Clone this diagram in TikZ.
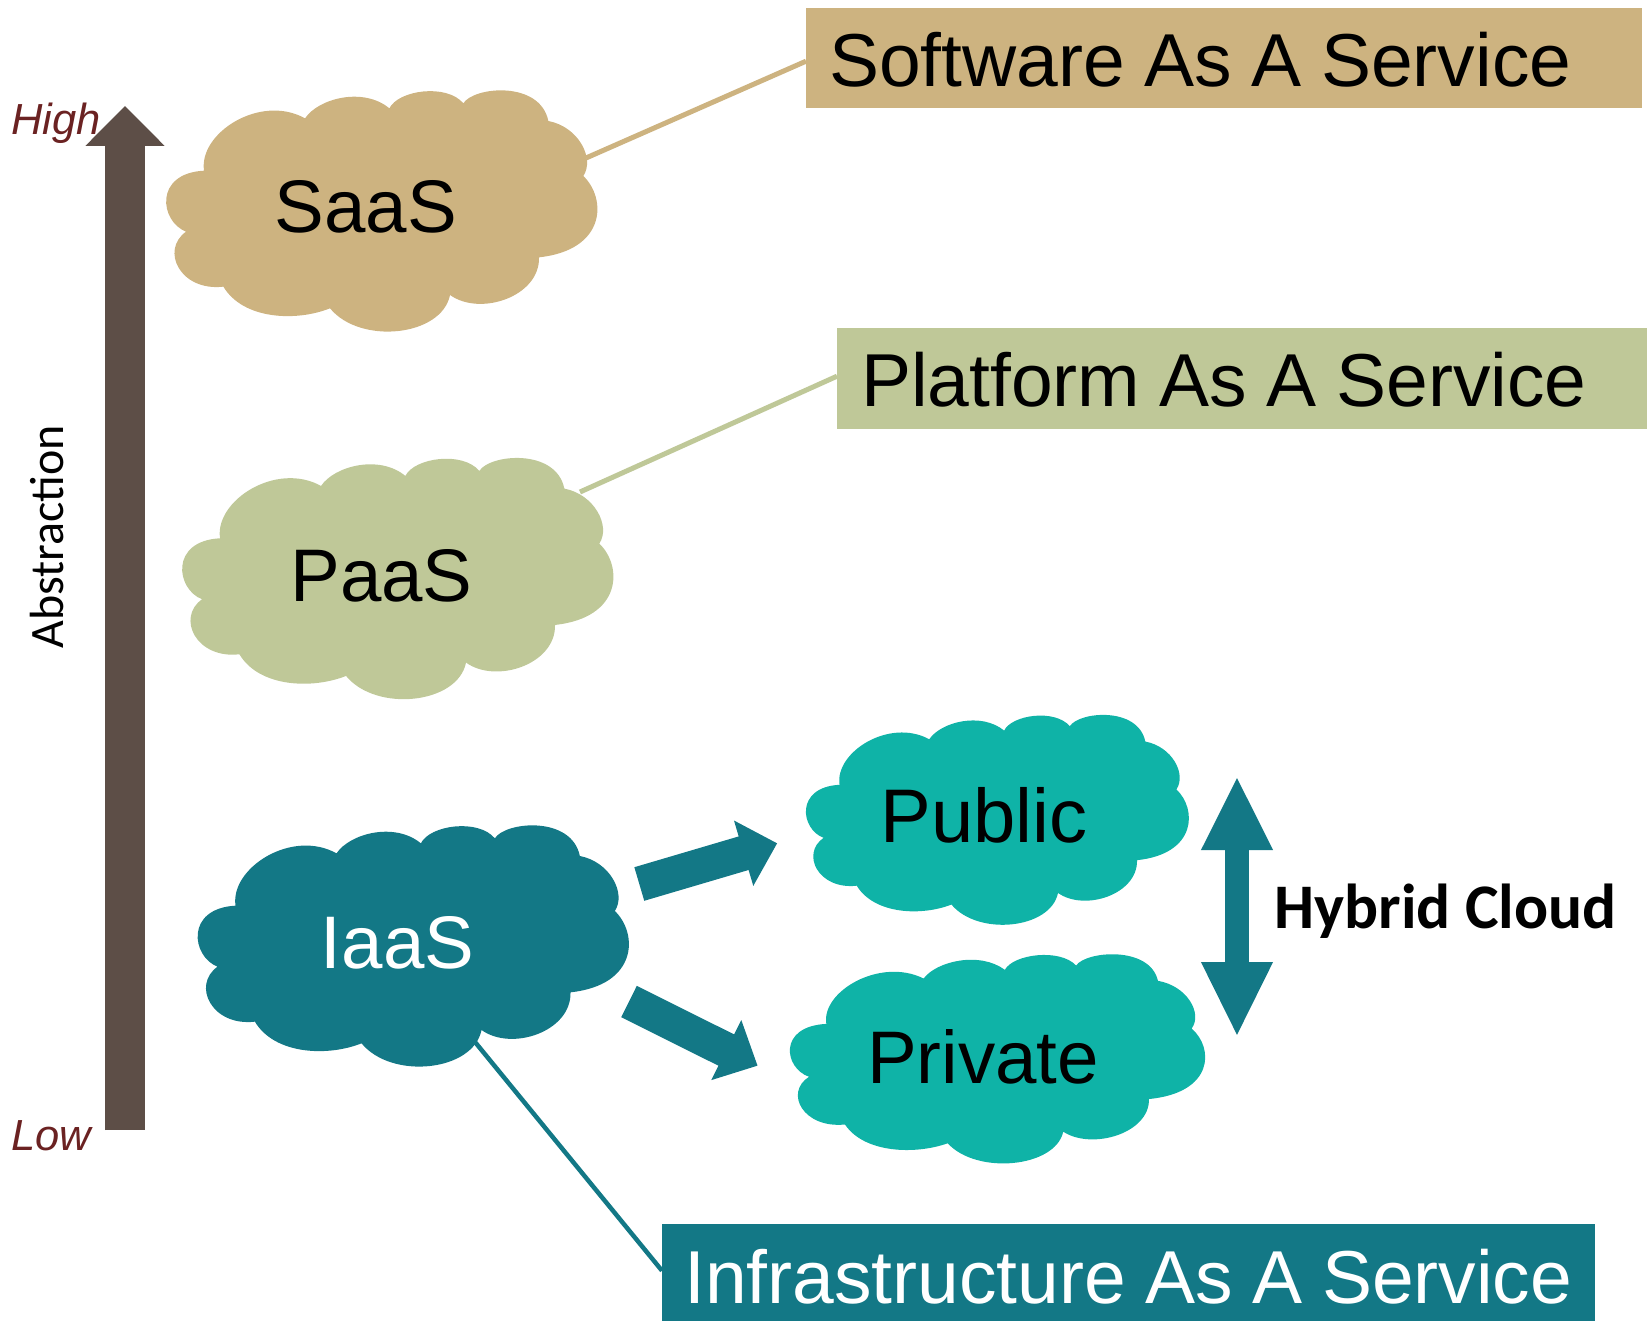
\documentclass[tikz,border=0pt]{standalone}
\usepackage{fontspec}
\setmainfont{Liberation Sans}
\newfontfamily\calibrifont{Carlito}
\usetikzlibrary{arrows.meta,positioning}

\definecolor{saastan}{HTML}{CDB380}
\definecolor{paassage}{HTML}{BFC898}
\definecolor{iaasteal}{HTML}{137886}
\definecolor{cloudgreen}{HTML}{0FB3A7}
\definecolor{axisbrown}{HTML}{5D4E47}
\definecolor{axisred}{HTML}{6B2222}

\newcommand{\boxfont}{\fontsize{75}{75}\selectfont\spaceskip=19.5pt\relax}

% one cloud outline, drawn around (0,0)
\newcommand{\cloudoutline}{
    (-185,-275)
    .. controls (-145,-335) and (-10,-370) .. (68,-305)
    .. controls (95,-360) and (240,-380) .. (290,-320)
    .. controls (320,-370) and (520,-390) .. (545,-267)
    .. controls (635,-250) and (685,-155) .. (650,-102)
    .. controls (720,-35) and (720,120) .. (517,142)
    .. controls (520,260) and (340,320) .. (250,255)
    .. controls (225,380) and (-20,405) .. (-110,295)
    .. controls (-210,335) and (-370,330) .. (-430,230)
    .. controls (-560,245) and (-620,120) .. (-542,65)
    .. controls (-620,35) and (-640,-110) .. (-488,-118)
    .. controls (-505,-230) and (-320,-350) .. (-185,-275)
    -- cycle
}

\tikzset{
    x=1pt,y=-1pt,
    cloudlabel/.style={anchor=base,inner sep=0pt,font=\fontsize{74.5}{74.5}\selectfont},
    infobox/.style={anchor=north west,inner sep=0pt,text height=#1,text depth=0pt,
        font=\boxfont,align=flush left},
    levellabel/.style={anchor=base west,inner sep=0pt,text=axisred,
        font=\fontsize{43.5}{43.5}\selectfont\itshape},
    fatarrow/.style={line width=35pt,iaasteal},
}

\begin{document}
\begin{tikzpicture}
    \useasboundingbox (0,0) rectangle (1647,1321);

    % left axis
    \coordinate (axislow) at (125,1130);
    \coordinate (axishigh) at (125,106);
    \draw[line width=40pt,axisbrown,-{Triangle[length=40pt,width=77pt]}] (axislow) -- (axishigh);
    \node[levellabel] (high) at (11,135) {High};
    \node[levellabel] (low) at (11,1150) {Low};
    \node[rotate=90,anchor=base,inner sep=0pt,font=\calibrifont\fontsize{48}{48}\selectfont] (abstraction) at (63,537) {Abstraction};

    % clouds
    \fill[saastan,shift={(366.7,210)},scale=0.3333] \cloudoutline;
    \fill[paassage,shift={(382.7,577.6)},scale=0.3333] \cloudoutline;
    \fill[iaasteal,shift={(398.2,945)},scale=0.3333] \cloudoutline;
    \fill[cloudgreen,shift={(984,819)},xscale=0.296,yscale=0.29] \cloudoutline;
    \fill[cloudgreen,shift={(983,1058)},xscale=0.321,yscale=0.289] \cloudoutline;

    \node[cloudlabel] (saas) at (366,232.7) {SaaS};
    \node[cloudlabel] (paas) at (381.5,601) {PaaS};
    \node[cloudlabel,text=white] (iaas) at (397.5,968.5) {IaaS};
    \node[cloudlabel,font=\fontsize{76}{76}\selectfont] (public) at (984,842) {Public};
    \node[cloudlabel] (private) at (983,1083) {Private};

    % boxes
    \node[infobox=56pt,fill=saastan,text width=836pt,minimum height=100pt] (softbox) at (806,8) {\hspace*{23pt}Software As A Service};
    \node[infobox=56pt,fill=paassage,text width=810pt,minimum height=101pt] (platbox) at (837,328) {\hspace*{24pt}Platform As A Service};
    \node[infobox=62pt,fill=iaasteal,text=white,text width=933pt,minimum height=97pt] (infrabox) at (662,1224) {\hspace*{22pt}Infrastructure As A Service};

    % leader lines
    \coordinate (saasedge) at (586,158);
    \coordinate (paasedge) at (580,492);
    \coordinate (iaasedge) at (475,1042);
    \draw[line width=5pt,saastan] (saasedge) -- ([yshift=-3pt]softbox.west);
    \draw[line width=5pt,paassage] (paasedge) -- ([yshift=2.5pt]platbox.west);
    \draw[line width=4.5pt,iaasteal] (iaasedge) -- ([yshift=2pt]infrabox.west);

    % arrows out of IaaS
    \coordinate (pubtail) at (639.3,884);
    \coordinate (pubtip) at (777.2,843.3);
    \coordinate (privtail) at (629,1001.5);
    \coordinate (privtip) at (757.6,1065.7);
    \draw[fatarrow,-{Triangle[length=35pt,width=66pt]}] (pubtail) -- (pubtip);
    \draw[fatarrow,-{Triangle[length=35pt,width=65pt]}] (privtail) -- (privtip);

    % hybrid
    \coordinate (hybtop) at (1237,776);
    \coordinate (hybbottom) at (1237,1037);
    \draw[line width=24pt,iaasteal,{Triangle[length=74pt,width=66pt]}-{Triangle[length=75pt,width=66pt]}] (hybtop) -- (hybbottom);
    \node[anchor=base west,inner sep=0pt,font=\calibrifont\bfseries\fontsize{63.5}{63.5}\selectfont] (hybrid) at (1274,928.5) {Hybrid Cloud};
\end{tikzpicture}
\end{document}
